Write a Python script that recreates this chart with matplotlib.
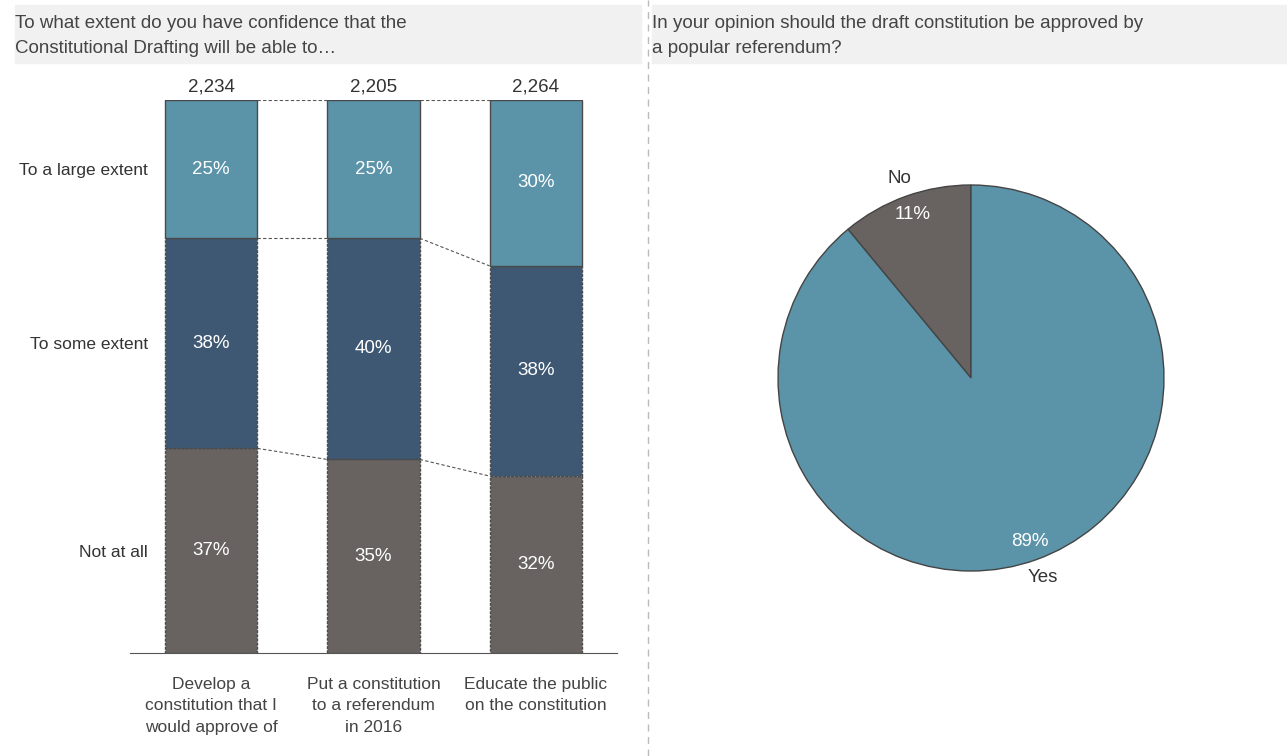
import matplotlib
matplotlib.use("Agg")
import matplotlib.pyplot as plt
from matplotlib.patches import Rectangle
from matplotlib.lines import Line2D
import numpy as np

plt.rcParams['font.family'] = ['Liberation Sans', 'DejaVu Sans']

# data
categories = ["Develop a\nconstitution that I\nwould approve of",
              "Put a constitution\nto a referendum\nin 2016",
              "Educate the public\non the constitution"]
counts = ["2,234", "2,205", "2,264"]
levels = ["Not at all", "To some extent", "To a large extent"]
not_at_all = [37, 35, 32]
some_extent = [38, 40, 38]
large_extent = [25, 25, 30]
pie_labels = ["No", "Yes"]
pie_values = [11, 89]

colors = ["#686361", "#3e5873", "#5b93a9"]
txt = "#444444"
W, H = 1287, 756
fs = 12.5
fs_num = 13.5

fig = plt.figure(figsize=(W / 100, H / 100), dpi=100)

def fx(px):
    return px / W

def fy(py):
    return 1 - py / H

# title bands
fig.patches.append(Rectangle((fx(15), fy(63)), fx(641 - 15), (63 - 5) / H,
                             transform=fig.transFigure, color="#f1f1f1", zorder=0))
fig.patches.append(Rectangle((fx(652), fy(63)), fx(W - 652), (63 - 5) / H,
                             transform=fig.transFigure, color="#f1f1f1", zorder=0))
fig.text(fx(15), fy(36), "To what extent do you have confidence that the\nConstitutional Drafting will be able to…",
         ha="left", va="center", fontsize=13.5, color=txt, linespacing=1.6)
fig.text(fx(652), fy(36), "In your opinion should the draft constitution be approved by\na popular referendum?",
         ha="left", va="center", fontsize=13.5, color=txt, linespacing=1.6)

# separator
fig.add_artist(Line2D([fx(648), fx(648)], [0, 1], transform=fig.transFigure,
                      color="#bbbbbb", lw=1, ls=(0, (5, 4))))

# stacked bars
ax = fig.add_axes([fx(130), fy(653), fx(617 - 130), (653 - 100) / H])
x = np.arange(len(categories))
width = 0.57
series = [not_at_all, some_extent, large_extent]
bottom = np.zeros(len(categories))
bounds = [bottom.copy()]
for i, (vals, c) in enumerate(zip(series, colors)):
    ls = "-" if i == 2 else (0, (2, 1))
    ax.bar(x, vals, width, bottom=bottom, color=c, edgecolor="#4a4a4a",
           linewidth=1, linestyle=ls, zorder=2)
    for xi, v, b in zip(x, vals, bottom):
        ax.text(xi, b + v / 2, f"{v}%", ha="center", va="center",
                color="white", fontsize=fs_num, zorder=3)
    bottom = bottom + np.array(vals)
    bounds.append(bottom.copy())

# dashed connectors between bars
for b in bounds[1:]:
    for i in range(len(categories) - 1):
        ax.plot([x[i] + width / 2, x[i + 1] - width / 2], [b[i], b[i + 1]],
                color="#555555", lw=0.8, ls=(0, (3, 2)), zorder=1)

for xi, c in zip(x, counts):
    ax.annotate(c, (xi, 100), xytext=(0, 3), textcoords="offset points",
                ha="center", va="bottom", fontsize=fs_num, color="#333333")

ax.set_xlim(-0.5, 2.5)
ax.set_ylim(0, 100)
ax.set_xticks(x)
ax.set_xticklabels(categories, fontsize=fs, color=txt, linespacing=1.55)
centers = [np.array(bounds[k])[0] + series[k][0] / 2 for k in range(3)]
ax.set_yticks(centers)
ax.set_yticklabels(levels, fontsize=fs, color="#333333")
ax.tick_params(axis="x", length=0, pad=17)
ax.tick_params(axis="y", length=0, pad=-13)
for s in ["top", "right", "left"]:
    ax.spines[s].set_visible(False)
ax.spines["bottom"].set_color("#555555")

# pie
r = 193
cx, cy = 971, 378
pax = fig.add_axes([fx(cx - r), fy(cy + r), fx(2 * r), 2 * r / H])
wedges, texts, autotexts = pax.pie(pie_values, labels=pie_labels, colors=[colors[0], colors[2]],
                                   startangle=90, counterclock=True, autopct="%d%%",
                                   labeldistance=1.1, pctdistance=0.9,
                                   wedgeprops=dict(edgecolor="#444444", linewidth=1),
                                   textprops=dict(fontsize=fs_num))
for t in texts:
    t.set_ha("center")
    t.set_color("#333333")
for t in autotexts:
    t.set_color("white")
pax.set_xlim(-1, 1)
pax.set_ylim(-1, 1)
pax.set_aspect("equal")

fig.savefig("out.png", dpi=100)
